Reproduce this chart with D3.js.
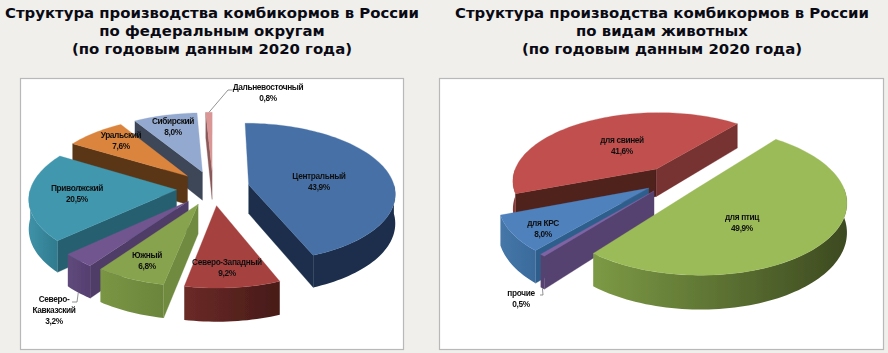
<!DOCTYPE html>
<html>
<head>
<meta charset="utf-8">
<script src="https://cdnjs.cloudflare.com/ajax/libs/d3/7.8.5/d3.min.js"></script>
<style>
  html, body { margin: 0; padding: 0; background: #f0efeb; }
  svg { display: block; }
  .title { font-family: "DejaVu Sans", sans-serif; font-weight: bold; font-size: 14.9px; fill: #0a0a14; text-anchor: middle; }
  .lbl { font-family: "Liberation Sans", Arial, sans-serif; font-weight: bold; font-size: 8.3px; letter-spacing: -0.35px; fill: #111; text-anchor: middle; }
</style>
</head>
<body>
<div id="chart"></div>
<script>
// data
const regions = ["Центральный", "Северо-Западный", "Южный", "Северо-Кавказский", "Приволжский", "Уральский", "Сибирский", "Дальневосточный"];
const regionShares = [43.9, 9.2, 6.8, 3.2, 20.5, 7.6, 8.0, 0.8];
const animals = ["для птиц", "прочие", "для КРС", "для свиней"];
const animalShares = [49.9, 0.5, 8.0, 41.6];

const titleLeft = ["Структура производства комбикормов в России", "по федеральным округам", "(по годовым данным 2020 года)"];
const titleRight = ["Структура производства комбикормов в России", "по видам животных", "(по годовым данным 2020 года)"];

// slice styles: top, start wall, end wall, outer wall left, outer wall right
const regionStyles = [
  ["#4771a6", "#1b2f4b", "#1b2f4b", "#1b2f4b", "#1b2f4b"],
  ["#a5433f", "#5c2220", "#5c2220", "#6b2a27", "#471a18"],
  ["#87a34d", "#708a3f", "#708a3f", "#7a9644", "#6b853b"],
  ["#70558f", "#4f3c68", "#4f3c68", "#5f4a7c", "#553f70"],
  ["#4197ae", "#266070", "#266070", "#3f92a8", "#2f7a8e"],
  ["#db843d", "#5a3515", "#5a3515", "#5a3515", "#5a3515"],
  ["#93a9cf", "#3c4659", "#3c4659", "#3c4659", "#3c4659"],
  ["#d99694", "#8a5a5a", "#8a5a5a", "#8a5a5a", "#8a5a5a"]
];
const animalStyles = [
  ["#9bbb59", "#77933c", "#77933c", "#7c9a45", "#3d4a20"],
  ["#8064a2", "#574270", "#574270", "#574270", "#574270"],
  ["#4f81bd", "#2f5f8c", "#2f5f8c", "#4577a8", "#3a6a9c"],
  ["#c0504d", "#4f201c", "#773030", "#8a3a38", "#8a3a38"]
];

// label layout: centre x, first baseline
const regionLabelAt = [[319, 179], [227, 265], [147, 258], [54, 302], [77, 191], [121, 138], [173, 124], [268, 90]];
const animalLabelAt = [[742, 220], [521, 296], [543, 226], [622, 143]];

const width = 888, height = 353;
const svg = d3.select("#chart").append("svg").attr("width", width).attr("height", height);
const defs = svg.append("defs");
defs.append("filter").attr("id", "soft").append("feGaussianBlur").attr("stdDeviation", 0.45);
defs.append("filter").attr("id", "softText").append("feGaussianBlur").attr("stdDeviation", 0.2);

svg.append("rect").attr("width", width).attr("height", height).attr("fill", "#f0efeb");

// white panels
[[20, 78, 383, 271], [439, 78, 444, 271]].forEach(function(b) {
  svg.append("rect").attr("x", b[0] + 0.5).attr("y", b[1] + 0.5).attr("width", b[2]).attr("height", b[3])
    .attr("fill", "#fff").attr("stroke", "#b8b8b8").attr("stroke-width", 1.2);
});

// titles
function drawTitle(lines, cx) {
  svg.selectAll(null).data(lines).enter().append("text")
    .attr("class", "title").attr("x", cx).attr("y", function(d, i) { return 18 + i * 18; })
    .text(function(d) { return d; });
}
drawTitle(titleLeft, 212);
drawTitle(titleRight, 662);

function draw3dPie(cfg, names, values, styles, order, labelAt) {
  const g = svg.append("g").attr("filter", "url(#soft)");
  const arcs = d3.pie().sort(null).startAngle(cfg.start).endAngle(cfg.start + 2 * Math.PI)(values);
  const line = d3.line();

  // ground plane to screen, with a little perspective
  function project(gx, gy, z) {
    const s = cfg.persp / (cfg.persp - gy);
    return [cfg.cx + gx * cfg.r * s, cfg.cy + gy * cfg.ky * s + z * s];
  }
  function groundAt(slice, a, rr) {
    const mid = (slice.startAngle + slice.endAngle) / 2;
    return [cfg.explode * Math.sin(mid) + rr * Math.sin(a), -cfg.explode * Math.cos(mid) - rr * Math.cos(a)];
  }
  function pt(slice, a, rr, z) {
    const p = groundAt(slice, a, rr);
    return project(p[0], p[1], z);
  }
  function arcPoints(slice, a0, a1, z) {
    const n = Math.max(2, Math.ceil((a1 - a0) / 0.03));
    return d3.range(n + 1).map(function(i) { return pt(slice, a0 + (a1 - a0) * i / n, 1, z); });
  }
  function wall(slice, a) {
    return [pt(slice, a, 0, 0), pt(slice, a, 1, 0), pt(slice, a, 1, cfg.depth), pt(slice, a, 0, cfg.depth)];
  }

  order.forEach(function(i) {
    const slice = arcs[i], st = styles[i];
    const gradId = cfg.id + "-wall-" + i;
    const grad = defs.append("linearGradient").attr("id", gradId);
    grad.append("stop").attr("offset", "0%").attr("stop-color", st[3]);
    grad.append("stop").attr("offset", "100%").attr("stop-color", st[4]);

    // radial walls that face the viewer
    if (Math.sin(slice.startAngle) < 0) {
      g.append("path").attr("d", line(wall(slice, slice.startAngle)) + "Z").attr("fill", st[1]).attr("stroke", st[1]).attr("stroke-width", 0.3);
    }
    if (Math.sin(slice.endAngle) > 0) {
      g.append("path").attr("d", line(wall(slice, slice.endAngle)) + "Z").attr("fill", st[2]).attr("stroke", st[2]).attr("stroke-width", 0.3);
    }

    // outer wall, front half of the rim only
    [[Math.PI / 2, 3 * Math.PI / 2], [5 * Math.PI / 2, 7 * Math.PI / 2]].forEach(function(fr) {
      const a0 = Math.max(slice.startAngle, fr[0]), a1 = Math.min(slice.endAngle, fr[1]);
      if (a1 <= a0) return;
      const pts = arcPoints(slice, a0, a1, 0).concat(arcPoints(slice, a0, a1, cfg.depth).reverse());
      g.append("path").attr("d", line(pts) + "Z").attr("fill", "url(#" + gradId + ")");
    });

    // top face
    const top = [pt(slice, slice.startAngle, 0, 0)].concat(arcPoints(slice, slice.startAngle, slice.endAngle, 0));
    g.append("path").attr("d", line(top) + "Z").attr("fill", st[0]).attr("stroke", st[0]).attr("stroke-width", 0.3);
  });

  // leader lines
  (cfg.leaders || []).forEach(function(l) {
    const slice = arcs[l.slice];
    const mid = (slice.startAngle + slice.endAngle) / 2;
    const start = pt(slice, mid, 1, l.z);
    svg.append("path").attr("d", line([start].concat(l.elbow))).attr("fill", "none").attr("stroke", "#777").attr("stroke-width", 0.8);
  });

  // labels
  const lg = svg.append("g").attr("filter", "url(#softText)");
  names.forEach(function(name, i) {
    const at = labelAt[i];
    const lines = (name === "Северо-Кавказский" ? ["Северо-", "Кавказский"] : [name])
      .concat([String(values[i]).replace(".", ",").replace(/^(\d+)$/, "$1,0") + "%"]);
    lg.selectAll(null).data(lines).enter().append("text")
      .attr("class", "lbl").attr("x", at[0]).attr("y", function(d, k) { return at[1] + k * 11; })
      .text(function(d) { return d; });
  });
}

const rad = Math.PI / 180;

draw3dPie(
  { id: "fed", cx: 213, cy: 188, r: 146, ky: 69, persp: 9, explode: 0.25, depth: 29, start: 0,
    leaders: [{ slice: 7, z: 0, elbow: [[228, 90], [232, 90]] }, { slice: 3, z: 29, elbow: [[77, 302], [72, 302]] }] },
  regions, regionShares, regionStyles, [7, 6, 5, 4, 3, 2, 1, 0], regionLabelAt
);

draw3dPie(
  { id: "animal", cx: 673, cy: 180, r: 145, ky: 69, persp: 6.1, explode: 0.2, depth: 28, start: 39 * rad,
    leaders: [{ slice: 1, z: 28, elbow: [[543, 295], [540, 295]] }] },
  animals, animalShares, animalStyles, [3, 2, 1, 0], animalLabelAt
);
</script>
</body>
</html>
